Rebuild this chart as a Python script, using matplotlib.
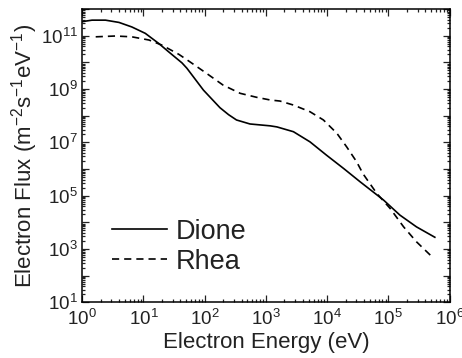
import numpy as np
import matplotlib.pyplot as plt
from matplotlib.ticker import LogLocator, FuncFormatter, NullFormatter

plt.rcParams['font.family'] = ['Liberation Sans', 'DejaVu Sans']
plt.rcParams['mathtext.fontset'] = 'custom'
plt.rcParams['mathtext.rm'] = 'Liberation Sans'
plt.rcParams['mathtext.it'] = 'Liberation Sans'

# values (log10 of energy in eV and of flux)
dione_logE = [0.0, 0.16, 0.38, 0.60, 0.81, 1.03, 1.25, 1.41, 1.63, 1.71,
              1.98, 2.25, 2.39, 2.52, 2.74, 3.07, 3.18, 3.45, 3.72, 3.99,
              4.27, 4.54, 4.92, 5.19, 5.46, 5.76]
dione_logF = [11.53, 11.585, 11.585, 11.50, 11.33, 11.09, 10.71, 10.40, 9.98, 9.78,
              8.96, 8.30, 8.04, 7.84, 7.69, 7.62, 7.58, 7.40, 7.02, 6.52,
              6.02, 5.52, 4.84, 4.27, 3.83, 3.44]

rhea_logE = [0.22, 0.54, 0.81, 1.09, 1.30, 1.58, 1.76, 2.03, 2.30, 2.58,
             2.85, 3.07, 3.23, 3.45, 3.72, 3.94, 4.16, 4.32, 4.48, 4.59,
             4.81, 5.03, 5.25, 5.46, 5.74]
rhea_logF = [10.96, 10.99, 10.96, 10.84, 10.65, 10.30, 10.02, 9.59, 9.15, 8.84,
             8.69, 8.59, 8.55, 8.40, 8.15, 7.84, 7.34, 6.83, 6.28, 5.81,
             5.09, 4.52, 3.83, 3.27, 2.65]

fig = plt.figure(figsize=(4.62, 3.58), dpi=100)
ax = fig.add_axes([0.178, 0.1556, 0.795, 0.819])

ax.plot(10 ** np.array(dione_logE), 10 ** np.array(dione_logF),
        color='black', lw=1.2, label='Dione')
ax.plot(10 ** np.array(rhea_logE), 10 ** np.array(rhea_logF),
        color='black', lw=1.2, ls=(0, (4.3, 3.0)), label='Rhea')

ax.set_xscale('log')
ax.set_yscale('log')
ax.set_xlim(1, 1e6)
ax.set_ylim(1e1, 1e12)

ax.xaxis.set_major_locator(LogLocator(base=10, numticks=20))
ax.xaxis.set_minor_locator(LogLocator(base=10, subs=np.arange(2, 10), numticks=50))
ax.xaxis.set_minor_formatter(NullFormatter())
ax.yaxis.set_major_locator(LogLocator(base=10, numticks=20))
ax.yaxis.set_minor_locator(LogLocator(base=10, subs=np.arange(2, 10), numticks=50))
ax.yaxis.set_minor_formatter(NullFormatter())


def ylab(v, pos):
    e = int(round(np.log10(v)))
    return r'$10^{%d}$' % e if e % 2 == 1 else ''


def xlab(v, pos):
    e = int(round(np.log10(v)))
    return r'$10^{%d}$' % e


ax.xaxis.set_major_formatter(FuncFormatter(xlab))
ax.yaxis.set_major_formatter(FuncFormatter(ylab))

ax.tick_params(which='both', direction='in', top=True, right=True,
               labelsize=13.5, width=0.9, color='#222222', labelcolor='#222222')
ax.tick_params(which='major', length=5)
ax.tick_params(which='minor', length=2.5)
ax.tick_params(axis='x', pad=5)
ax.tick_params(axis='y', pad=3)
for s in ax.spines.values():
    s.set_linewidth(1.1)

ax.set_xlabel('Electron Energy (eV)', fontsize=16, labelpad=2, color='#222222')
ax.set_ylabel(r'Electron Flux (m$^{-2}$s$^{-1}$eV$^{-1}$)', fontsize=16,
              labelpad=1, color='#222222')

leg = ax.legend(loc='upper left', bbox_to_anchor=(0.08, 0.285), frameon=False,
                fontsize=19.5, handlelength=2.05, handletextpad=0.3,
                labelspacing=0.15, borderpad=0, borderaxespad=0)
for t in leg.get_texts():
    t.set_color('#222222')

fig.savefig('out.png', dpi=100)
